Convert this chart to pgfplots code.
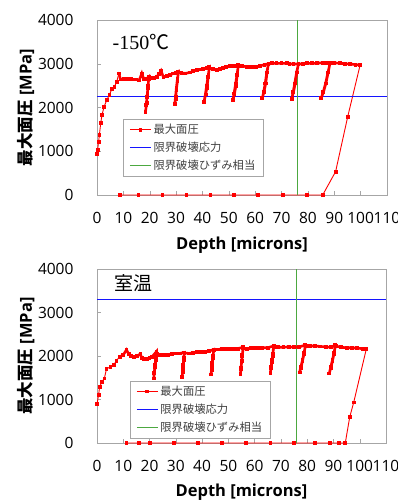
\documentclass[border=0pt]{standalone}
\usepackage{pgfplots}
\pgfplotsset{compat=1.18}
\usepackage{fontspec}
\setmainfont{Open Sans}
\newfontfamily\cjk{Noto Sans CJK JP}
\newfontfamily\serif{Liberation Serif}
\definecolor{myred}{RGB}{255,0,0}
\definecolor{mygreen}{RGB}{76,168,64}
\definecolor{myblue}{RGB}{20,20,255}
\pgfplotsset{
 myaxis/.style={width=290pt, height=175pt, scale only axis,
  xmin=0,xmax=110,ymin=0,ymax=4000,
  xtick={0,10,...,110}, ytick={0,1000,...,4000}, clip=false,
  xtick pos=bottom, ytick pos=left, tick align=inside,
  axis line style={gray!70}, tick style={gray!70, thin}, major tick length=4pt,
  tick label style={font=\fontsize{15.5}{18}\selectfont},
  /pgf/number format/assume math mode=true, /pgf/number format/1000 sep={},
  xticklabel style={yshift=-14pt}, yticklabel style={xshift=-20pt},
  xlabel={Depth [microns]}, ylabel={{\cjk 最大面圧} [MPa]},
  label style={font=\bfseries\fontsize{16.5}{18}\selectfont},
  xlabel style={at={(axis description cs:0.5,-0.285)},anchor=center},
  ylabel style={at={(axis description cs:-0.245,0.5)},anchor=center},
  legend cell align=left,
  legend style={draw=gray!70, font=\cjk\fontsize{11.3}{13}\selectfont, text=black!75, row sep=3pt, inner xsep=6pt, inner ysep=3pt, anchor=north west},
  legend image code/.code={\draw[mark repeat=2,mark phase=2,##1] plot coordinates {(0pt,0pt) (10.5pt,0pt) (21pt,0pt)};},
 },
 redline/.style={draw=myred, line width=0.9pt, mark=square*, mark size=1.4pt, mark options={solid,fill=myred,draw=myred}},
 bandline/.style={draw=myred, line width=2.6pt, forget plot},
 blueline/.style={draw=myblue, line width=1.2pt, no marks},
 greenline/.style={draw=mygreen, line width=1.3pt, no marks},
}
\pgfplotstableread{
x y
0 937
0.25 1030
0.6 1220
0.9 1370
1.4 1640
1.9 1830
2.7 2020
3.7 2170
4.7 2290
5.6 2415
6.6 2476
7.5 2590
8.3 2780
8.9 2640
10 2650
11 2660
12 2650
13 2650
14 2640
15 2640
16 2620
17 2780
17.8 2640
18.6 2650
19.6 2700
19.4 2500
19.1 2300
18.8 2100
18.4 1900
18.7 2050
19.0 2250
19.3 2450
19.6 2650
20.5 2670
21.5 2680
22.6 2700
23.5 2760
24.3 2840
25.2 2690
26.5 2720
27.7 2740
28.9 2780
30.0 2790
30.8 2820
30.5 2600
30.1 2400
29.8 2200
29.5 2080
29.8 2250
30.1 2450
30.5 2650
30.9 2800
32 2790
33.4 2780
35.3 2800
36.5 2830
37.8 2860
39 2870
40.3 2880
41.5 2900
42.6 2930
42.2 2700
41.7 2450
41.2 2300
40.6 2130
41.1 2300
41.6 2500
42.1 2700
42.6 2900
44 2880
45.4 2860
46.5 2880
47.9 2900
49 2930
50.4 2950
52 2950
53.6 2970
53.2 2750
52.7 2500
52.1 2300
51.5 2170
52 2320
52.6 2550
53.1 2750
53.6 2950
55 2950
56.8 2930
58 2920
59.3 2930
60.5 2930
61.8 2950
63.5 2980
65 3000
64.5 2800
64 2550
63.3 2350
62.7 2210
63.2 2350
63.8 2550
64.4 2800
65 2990
66.5 3010
68.1 3010
70 3010
71.9 3010
73 3000
74.5 2990
76.4 3000
75.8 2800
75.2 2550
74.5 2350
73.8 2190
74.4 2350
75 2550
75.7 2800
76.4 2990
78 3000
79.5 3010
81.5 3010
83.3 3010
85.8 3025
87 3020
88.4 3025
87.7 2800
86.8 2550
85.9 2350
85 2210
85.8 2350
86.7 2550
87.6 2800
88.4 3010
90 3020
92.2 3010
94 3000
96 2995
98 2980
99.8 2970
95.1 1790
90.5 533
85.6 0
79.6 0
70.5 0
61 0
52 0
43 0
33.9 0
24.8 0
15.7 0
8.6 0
}\cold
\pgfplotstableread{
x y
0 890
0.6 1100
1 1290
1.9 1410
2.8 1485
3.6 1700
5.1 1754
6.3 1790
7.4 1890
8.6 1985
9.9 2015
11.2 2140
12.1 2046
13 2000
14 1985
15.2 2000
16.5 2046
17.1 1946
18 1930
19 1923
20 1950
21 1985
22.6 2100
22.4 1900
22.1 1750
21.8 1600
21.6 1485
21.8 1620
22.1 1800
22.4 1950
22.7 2050
24 2020
25.5 2020
27 2030
28.5 2050
30 2060
31.5 2060
33.2 2080
33.0 1900
32.8 1750
32.6 1620
32.4 1523
32.6 1650
32.8 1800
33.0 1950
33.3 2070
35 2060
36.5 2070
38 2090
39.5 2100
41 2100
42.5 2110
44.4 2150
44.1 1950
43.9 1800
43.6 1680
43.4 1577
43.6 1700
43.9 1850
44.1 2000
44.5 2140
46 2150
47.5 2160
49 2160
50.5 2160
52 2170
53.5 2170
55.6 2200
55.3 2000
55 1850
54.8 1700
54.6 1585
54.8 1720
55.1 1880
55.3 2030
55.7 2180
57 2160
58.5 2180
60 2180
61.5 2180
63 2190
65 2190
67.2 2230
66.9 2000
66.5 1850
66.2 1720
66 1615
66.3 1750
66.6 1900
66.9 2050
67.3 2210
69 2200
71 2200
73 2210
75 2200
77 2210
79.3 2250
78.8 2050
78.2 1880
77.6 1730
77.1 1623
77.6 1750
78.2 1900
78.8 2080
79.4 2240
81 2230
83 2230
85 2220
87 2210
89 2200
90.7 2250
90.2 2050
89.6 1880
89 1730
88.4 1600
89 1750
89.6 1900
90.2 2080
90.8 2230
93 2200
95 2190
97 2190
99 2180
101 2170
102.5 2160
97.7 931
96.2 600
94.5 0
92.2 0
88.6 0
83.1 0
75.1 0
66 0
56.8 0
47.6 0
38.4 0
29.2 0
20.3 0
15.9 0
11.2 0
}\room
\begin{document}
\begin{tikzpicture}[x=1pt,y=1pt]
\useasboundingbox (0,0) rectangle (398,500);
\begin{axis}[myaxis, at={(97pt,305pt)}, anchor=south west,
  legend style={at={(axis description cs:0.09,0.434)}}]
\addplot[redline] table[x=x,y=y] {\cold};
\addlegendentry{最大面圧}
\addplot[blueline] coordinates {(0,2250) (110,2250)};
\addlegendentry{限界破壊応力}
\addplot[greenline] coordinates {(76,0) (76,4000)};
\addlegendentry{限界破壊ひずみ相当}
\addplot[bandline, restrict expr to domain={\coordindex}{12:136}] table[x=x,y=y] {\cold};
\node[font=\fontsize{20}{22}\selectfont] at (axis description cs:0.152,0.877) {\serif -150{\cjk ℃}};
\end{axis}
\begin{axis}[myaxis, at={(97pt,57pt)}, anchor=south west, height=174pt, width=289pt,
  legend style={at={(axis description cs:0.114,0.358)}}]
\addplot[redline] table[x=x,y=y] {\room};
\addlegendentry{最大面圧}
\addplot[blueline] coordinates {(0,3300) (110,3300)};
\addlegendentry{限界破壊応力}
\addplot[greenline] coordinates {(76,0) (76,4000)};
\addlegendentry{限界破壊ひずみ相当}
\addplot[bandline, restrict expr to domain={\coordindex}{9:124}] table[x=x,y=y] {\room};
\node[font=\cjk\fontsize{19}{22}\selectfont] at (axis description cs:0.128,0.92) {室温};
\end{axis}
\end{tikzpicture}
\end{document}
